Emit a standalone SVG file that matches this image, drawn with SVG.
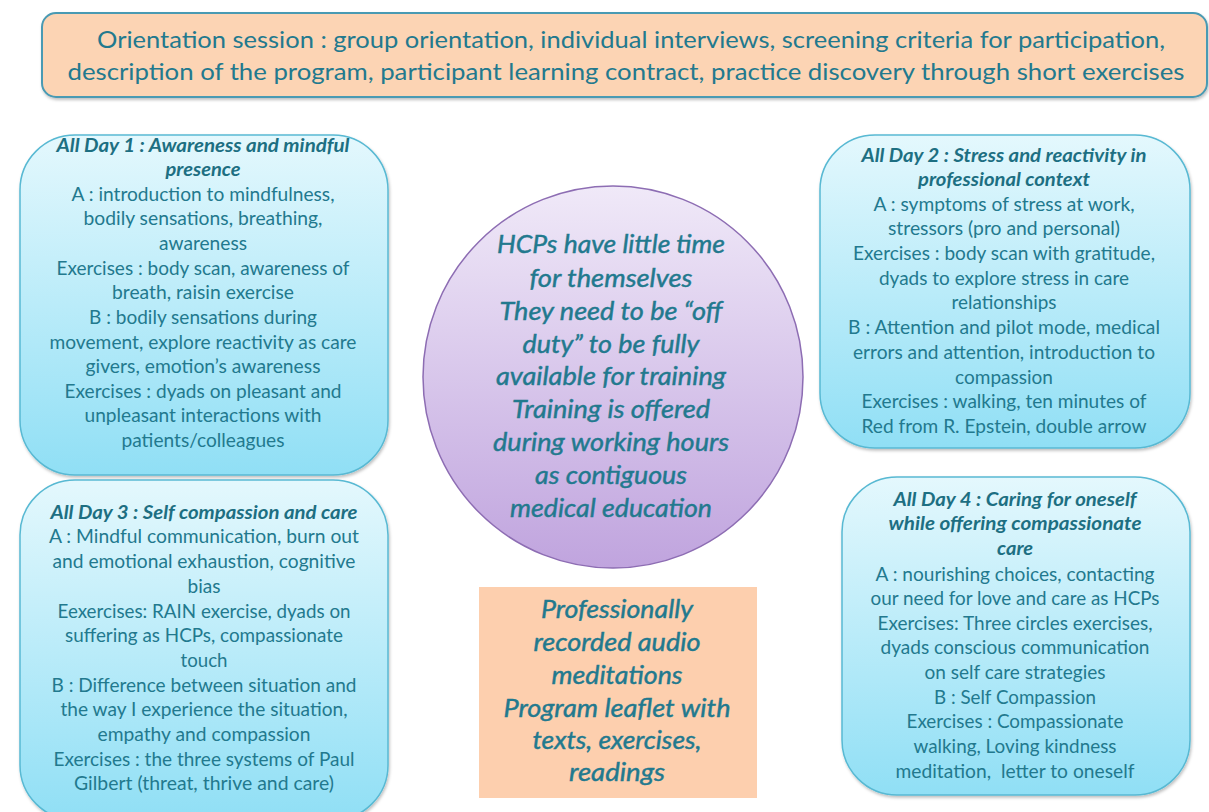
<svg xmlns="http://www.w3.org/2000/svg" width="1209" height="812" viewBox="0 0 1209 812">
<defs>
<linearGradient id="gBlue" x1="0" y1="0" x2="0" y2="1">
<stop offset="0" stop-color="#e4f8fd"/>
<stop offset="1" stop-color="#90dff5"/>
</linearGradient>
<linearGradient id="gPurple" x1="0" y1="0" x2="0" y2="1">
<stop offset="0" stop-color="#f0e9f8"/>
<stop offset="1" stop-color="#c0a4de"/>
</linearGradient>
<filter id="sh" x="-10%" y="-10%" width="120%" height="120%">
<feDropShadow dx="1" dy="2" stdDeviation="1.5" flood-color="#000" flood-opacity="0.25"/>
</filter>
</defs>
<style>
text{font-family:Lato,"Liberation Sans",sans-serif;fill:#22798e;text-anchor:middle}
.b{font-size:19px}
.t{font-size:18px;font-weight:bold;font-style:italic;fill:#1d6f82}
.ban{font-size:23px}
.c{font-size:26px;font-style:italic;stroke:#22798e;stroke-width:0.45}
.box{fill:url(#gBlue);stroke:#58b9d3;stroke-width:1.5;filter:url(#sh)}
</style>
<rect width="1209" height="812" fill="#ffffff"/>

<g id="orientation">
<rect x="42" y="13" width="1165" height="84" rx="14" fill="#fcd4b4" stroke="#4a9ab3" stroke-width="2" filter="url(#sh)"/>
<text class="ban" x="631" y="48" textLength="1068" lengthAdjust="spacingAndGlyphs">Orientation session : group orientation, individual interviews, screening criteria for participation,</text>
<text class="ban" x="626" y="80" textLength="1117" lengthAdjust="spacingAndGlyphs">description of the program, participant learning contract, practice discovery through short exercises</text>
</g>

<g id="day1">
<rect class="box" x="20" y="135" width="368" height="340" rx="55"/>
<text class="t" x="203" y="152" textLength="293" lengthAdjust="spacingAndGlyphs">All Day 1 : Awareness and mindful</text>
<text class="t" x="203" y="176" textLength="75" lengthAdjust="spacingAndGlyphs">presence</text>
<text class="b" x="203" y="201" textLength="263" lengthAdjust="spacingAndGlyphs">A : introduction to mindfulness,</text>
<text class="b" x="203" y="225" textLength="239" lengthAdjust="spacingAndGlyphs">bodily sensations, breathing,</text>
<text class="b" x="203" y="250" textLength="88" lengthAdjust="spacingAndGlyphs">awareness</text>
<text class="b" x="203" y="275" textLength="293" lengthAdjust="spacingAndGlyphs">Exercises : body scan, awareness of</text>
<text class="b" x="203" y="299" textLength="182" lengthAdjust="spacingAndGlyphs">breath, raisin exercise</text>
<text class="b" x="203" y="324" textLength="228" lengthAdjust="spacingAndGlyphs">B : bodily sensations during</text>
<text class="b" x="203" y="349" textLength="307" lengthAdjust="spacingAndGlyphs">movement, explore reactivity as care</text>
<text class="b" x="203" y="373" textLength="235" lengthAdjust="spacingAndGlyphs">givers, emotion’s awareness</text>
<text class="b" x="203" y="398" textLength="277" lengthAdjust="spacingAndGlyphs">Exercises : dyads on pleasant and</text>
<text class="b" x="203" y="422" textLength="237" lengthAdjust="spacingAndGlyphs">unpleasant interactions with</text>
<text class="b" x="203" y="447" textLength="163" lengthAdjust="spacingAndGlyphs">patients/colleagues</text>
</g>

<g id="day3">
<rect class="box" x="20" y="480" width="368" height="340" rx="55"/>
<text class="t" x="204" y="519" textLength="307" lengthAdjust="spacingAndGlyphs">All Day 3 : Self compassion and care</text>
<text class="b" x="204" y="543" textLength="310" lengthAdjust="spacingAndGlyphs">A : Mindful communication, burn out</text>
<text class="b" x="204" y="568" textLength="303" lengthAdjust="spacingAndGlyphs">and emotional exhaustion, cognitive</text>
<text class="b" x="204" y="593" textLength="33" lengthAdjust="spacingAndGlyphs">bias</text>
<text class="b" x="204" y="618" textLength="293" lengthAdjust="spacingAndGlyphs">Eexercises: RAIN exercise, dyads on</text>
<text class="b" x="204" y="642" textLength="278" lengthAdjust="spacingAndGlyphs">suffering as HCPs, compassionate</text>
<text class="b" x="204" y="667" textLength="47" lengthAdjust="spacingAndGlyphs">touch</text>
<text class="b" x="204" y="692" textLength="305" lengthAdjust="spacingAndGlyphs">B : Difference between situation and</text>
<text class="b" x="204" y="716" textLength="287" lengthAdjust="spacingAndGlyphs">the way I experience the situation,</text>
<text class="b" x="204" y="741" textLength="213" lengthAdjust="spacingAndGlyphs">empathy and compassion</text>
<text class="b" x="204" y="766" textLength="301" lengthAdjust="spacingAndGlyphs">Exercises : the three systems of Paul</text>
<text class="b" x="204" y="790" textLength="260" lengthAdjust="spacingAndGlyphs">Gilbert (threat, thrive and care)</text>
</g>

<g id="day2">
<rect class="box" x="820" y="135" width="370" height="313" rx="55"/>
<text class="t" x="1004" y="162" textLength="285" lengthAdjust="spacingAndGlyphs">All Day 2 : Stress and reactivity in</text>
<text class="t" x="1004" y="186" textLength="172" lengthAdjust="spacingAndGlyphs">professional context</text>
<text class="b" x="1004" y="211" textLength="261" lengthAdjust="spacingAndGlyphs">A : symptoms of stress at work,</text>
<text class="b" x="1004" y="235" textLength="232" lengthAdjust="spacingAndGlyphs">stressors (pro and personal)</text>
<text class="b" x="1004" y="260" textLength="302" lengthAdjust="spacingAndGlyphs">Exercises : body scan with gratitude,</text>
<text class="b" x="1004" y="285" textLength="250" lengthAdjust="spacingAndGlyphs">dyads to explore stress in care</text>
<text class="b" x="1004" y="309" textLength="105" lengthAdjust="spacingAndGlyphs">relationships</text>
<text class="b" x="1004" y="334" textLength="312" lengthAdjust="spacingAndGlyphs">B : Attention and pilot mode, medical</text>
<text class="b" x="1004" y="359" textLength="302" lengthAdjust="spacingAndGlyphs">errors and attention, introduction to</text>
<text class="b" x="1004" y="384" textLength="98" lengthAdjust="spacingAndGlyphs">compassion</text>
<text class="b" x="1004" y="408" textLength="285" lengthAdjust="spacingAndGlyphs">Exercises : walking, ten minutes of</text>
<text class="b" x="1004" y="433" textLength="285" lengthAdjust="spacingAndGlyphs">Red from R. Epstein, double arrow</text>
</g>

<g id="day4">
<rect class="box" x="842" y="477" width="348" height="318" rx="55"/>
<text class="t" x="1015" y="506" textLength="243" lengthAdjust="spacingAndGlyphs">All Day 4 : Caring for oneself</text>
<text class="t" x="1015" y="530" textLength="253" lengthAdjust="spacingAndGlyphs">while offering compassionate</text>
<text class="t" x="1015" y="555" textLength="36" lengthAdjust="spacingAndGlyphs">care</text>
<text class="b" x="1015" y="581" textLength="279" lengthAdjust="spacingAndGlyphs">A : nourishing choices, contacting</text>
<text class="b" x="1015" y="605" textLength="289" lengthAdjust="spacingAndGlyphs">our need for love and care as HCPs</text>
<text class="b" x="1015" y="630" textLength="275" lengthAdjust="spacingAndGlyphs">Exercises: Three circles exercises,</text>
<text class="b" x="1015" y="654" textLength="269" lengthAdjust="spacingAndGlyphs">dyads conscious communication</text>
<text class="b" x="1015" y="679" textLength="181" lengthAdjust="spacingAndGlyphs">on self care strategies</text>
<text class="b" x="1015" y="704" textLength="162" lengthAdjust="spacingAndGlyphs">B : Self Compassion</text>
<text class="b" x="1015" y="728" textLength="217" lengthAdjust="spacingAndGlyphs">Exercises : Compassionate</text>
<text class="b" x="1015" y="753" textLength="203" lengthAdjust="spacingAndGlyphs">walking, Loving kindness</text>
<text class="b" x="1015" y="778" textLength="239" lengthAdjust="spacingAndGlyphs" xml:space="preserve">meditation,  letter to oneself</text>
</g>

<g id="center">
<ellipse cx="613" cy="377" rx="190" ry="191" fill="url(#gPurple)" stroke="#8d6db3" stroke-width="1.5"/>
<text class="c" x="611" y="253" textLength="228" lengthAdjust="spacingAndGlyphs">HCPs have little time</text>
<text class="c" x="611" y="287" textLength="163" lengthAdjust="spacingAndGlyphs">for themselves</text>
<text class="c" x="611" y="320" textLength="223" lengthAdjust="spacingAndGlyphs">They need to be “off</text>
<text class="c" x="611" y="353" textLength="177" lengthAdjust="spacingAndGlyphs">duty” to be fully</text>
<text class="c" x="611" y="385" textLength="230" lengthAdjust="spacingAndGlyphs">available for training</text>
<text class="c" x="611" y="418" textLength="198" lengthAdjust="spacingAndGlyphs">Training is offered</text>
<text class="c" x="611" y="451" textLength="236" lengthAdjust="spacingAndGlyphs">during working hours</text>
<text class="c" x="611" y="484" textLength="152" lengthAdjust="spacingAndGlyphs">as contiguous</text>
<text class="c" x="611" y="517" textLength="202" lengthAdjust="spacingAndGlyphs">medical education</text>
</g>

<g id="resources">
<rect x="479" y="587" width="278" height="211" fill="#fdcfae"/>
<text class="c" x="617" y="618" textLength="152" lengthAdjust="spacingAndGlyphs">Professionally</text>
<text class="c" x="617" y="651" textLength="167" lengthAdjust="spacingAndGlyphs">recorded audio</text>
<text class="c" x="617" y="684" textLength="131" lengthAdjust="spacingAndGlyphs">meditations</text>
<text class="c" x="617" y="717" textLength="227" lengthAdjust="spacingAndGlyphs">Program leaflet with</text>
<text class="c" x="617" y="749" textLength="169" lengthAdjust="spacingAndGlyphs">texts, exercises,</text>
<text class="c" x="617" y="781" textLength="96" lengthAdjust="spacingAndGlyphs">readings</text>
</g>

<g id="connectors"></g>
</svg>
